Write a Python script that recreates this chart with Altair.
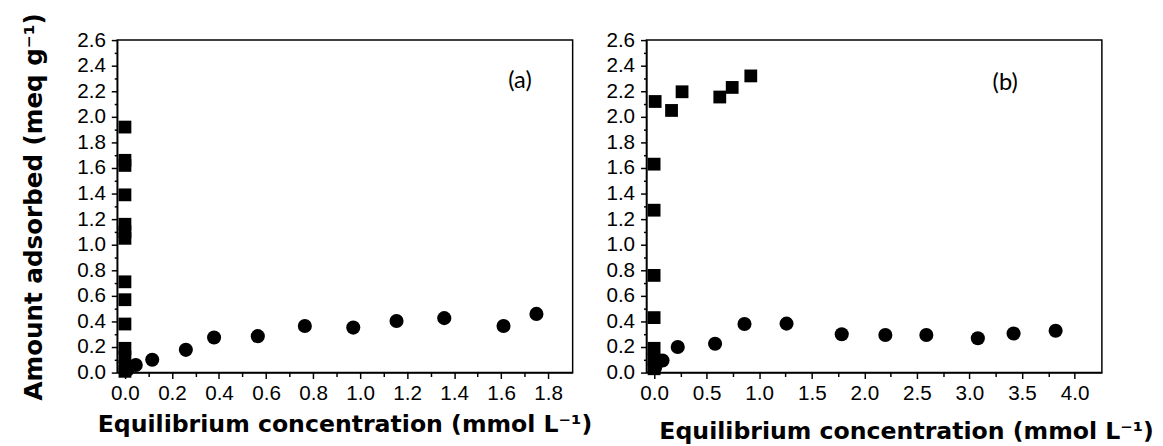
import altair as alt
import pandas as pd

# ---- data ----
# panel (a)
a_sq_x = [0.0, 0.0, 0.0, 0.0, 0.0, 0.0, 0.0, 0.0, 0.0, 0.0, 0.0, 0.0, 0.0, 0.0]
a_sq_y = [1.92, 1.66, 1.62, 1.39, 1.16, 1.10, 1.05, 0.71, 0.57, 0.38, 0.19, 0.12, 0.05, 0.01]
a_ci_x = [0.01, 0.046, 0.116, 0.259, 0.379, 0.565, 0.765, 0.971, 1.155, 1.358, 1.61, 1.75]
a_ci_y = [0.02, 0.06, 0.10, 0.178, 0.275, 0.285, 0.365, 0.352, 0.403, 0.426, 0.365, 0.459]
# panel (b)
b_sq_x = [0.0, 0.0, 0.0, 0.0, 0.0, 0.0, 0.0, 0.01, 0.166, 0.266, 0.625, 0.743, 0.92]
b_sq_y = [0.03, 0.10, 0.19, 0.43, 0.76, 1.27, 1.63, 2.12, 2.05, 2.196, 2.155, 2.23, 2.32]
b_ci_x = [0.01, 0.08, 0.225, 0.58, 0.86, 1.26, 1.785, 2.20, 2.59, 3.08, 3.42, 3.82]
b_ci_y = [0.04, 0.095, 0.20, 0.225, 0.38, 0.383, 0.30, 0.294, 0.294, 0.268, 0.306, 0.327]

y_ticks = [round(i * 0.1, 1) for i in range(27)]
a_x_ticks = [round(i * 0.1, 1) for i in range(19)]
b_x_ticks = [round(i * 0.25, 2) for i in range(17)]

x_title = "Equilibrium concentration (mmol L\u207b\u00b9)"
y_title = "Amount adsorbed (meq g\u207b\u00b9)"

W, H = 463, 338


def panel(sq_x, sq_y, ci_x, ci_y, xdom, xticks, major_test, tag, tag_x, tag_y,
          show_ytitle, title_x, title_pad):
    sq = pd.DataFrame({"x": sq_x, "y": sq_y})
    ci = pd.DataFrame({"x": ci_x, "y": ci_y})
    tg = pd.DataFrame({"x": [tag_x], "y": [tag_y], "t": [tag]})

    ymajor = "round(datum.value*10) % 2 == 0"
    xaxis = alt.Axis(
        values=xticks,
        labelExpr=f"({major_test}) ? format(datum.value, '.1f') : ''",
        tickSize={"condition": {"test": major_test, "value": 6}, "value": 4},
        title=x_title,
        titleX=title_x,
        titlePadding=title_pad,
        labelOverlap=False,
        labelFlush=False,
        labelPadding=4,
    )
    yaxis = alt.Axis(
        values=y_ticks,
        labelExpr=f"({ymajor}) ? format(datum.value, '.1f') : ''",
        tickSize={"condition": {"test": ymajor, "value": 6}, "value": 3},
        title=y_title if show_ytitle else "",
        titleFontSize=25,
        titlePadding=31,
        labelOverlap=False,
        labelFlush=False,
        labelPadding=6,
    )
    xs = alt.Scale(domain=xdom, nice=False, zero=False)
    ys = alt.Scale(domain=[0, 2.6], nice=False, zero=False)
    enc = dict(
        x=alt.X("x:Q", scale=xs, axis=xaxis),
        y=alt.Y("y:Q", scale=ys, axis=yaxis),
    )

    squares = alt.Chart(sq).mark_point(
        shape="square", filled=True, size=169, color="black", opacity=1
    ).encode(**enc)
    circles = alt.Chart(ci).mark_circle(
        size=205, color="black", opacity=1
    ).encode(**enc)
    label = alt.Chart(tg).mark_text(
        font="Lato", fontSize=24, color="black", align="center", baseline="middle"
    ).encode(text="t:N", **enc)
    return alt.layer(squares, circles, label).properties(width=W, height=H)


left = panel(a_sq_x, a_sq_y, a_ci_x, a_ci_y, [-0.033, 1.904], a_x_ticks,
             "round(datum.value*10) % 2 == 0", "(a)", 1.68, 2.28, True, 231, 10)
right = panel(b_sq_x, b_sq_y, b_ci_x, b_ci_y, [-0.073, 4.26], b_x_ticks,
              "round(datum.value*4) % 2 == 0", "(b)", 3.34, 2.26, False, 264, 17)

chart = alt.hconcat(left, right, spacing=75, bounds="flush").properties(
    padding={"left": 13, "top": 0, "right": 0, "bottom": 0}
).configure_view(
    stroke="black", strokeWidth=1.5
).configure_axis(
    grid=False,
    domainColor="black", domainWidth=1.5,
    tickColor="black", tickWidth=1.5,
    labelFont="Liberation Sans", labelFontSize=21, labelColor="black",
    titleFont="DejaVu Sans", titleFontSize=24, titleFontWeight="bold",
    titleColor="black",
)

chart.save("out.html", embed_options={"renderer": "svg", "actions": False})
